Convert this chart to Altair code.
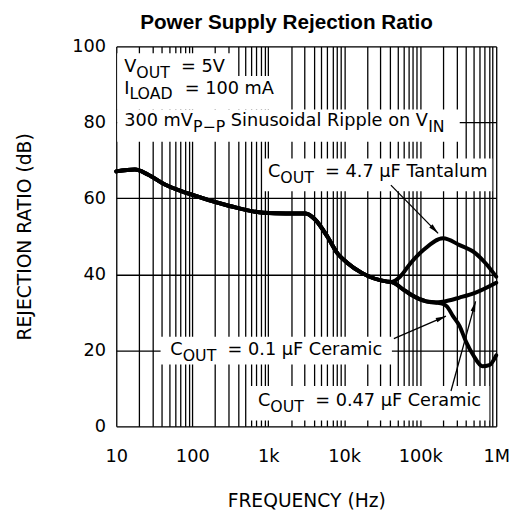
import math
import altair as alt
import pandas as pd

# ---------------- data ----------------
# common part of the three curves (frequency in Hz, rejection in dB)
common_f = [10, 17.6, 26, 43, 94, 310, 860, 1700, 3100, 4100, 6100, 8100, 11000, 17000, 37000, 42000]
common_db = [67.1, 67.6, 66.3, 63.7, 61.1, 58.0, 56.2, 56.0, 56.0, 54.5, 49.7, 45.6, 43.0, 40.4, 38.1, 38.0]

tant_f = [55000, 75000, 110000, 200000, 330000, 530000, 720000, 1000000]
tant_db = [39.5, 43.0, 46.4, 49.5, 47.7, 45.6, 43.0, 39.4]

ceramic_f = [60000, 75000, 120000, 160000]
ceramic_db = [36.0, 34.7, 32.9, 32.6]

c047_f = [200000, 330000, 535000, 1000000]
c047_db = [32.8, 33.9, 35.2, 37.8]

c01_f = [200000, 224000, 270000, 330000, 400000, 500000, 660000, 810000, 1000000]
c01_db = [32.2, 31.6, 29.0, 26.4, 22.3, 18.7, 15.8, 16.1, 18.7]

series_names = ["4.7 µF Tantalum", "0.1 µF Ceramic", "0.47 µF Ceramic"]

decade_vals = [10, 100, 1000, 10000, 100000, 1000000]
decade_labels = ["10", "100", "1k", "10k", "100k", "1M"]
minor_mult = [2, 3, 4, 5, 6, 7, 8, 9]
y_ticks = [0, 20, 40, 60, 80, 100]

# annotation texts: (text, font size, subscript drop in px)
label_ids = ["vout", "iload", "ripple", "tant", "c01", "c047"]
label_anchor_f = [12.7, 12.7, 12.7, 989, 51.5, 733]
label_anchor_db = [93.3, 87.6, 79.0, 65.5, 18.65, 5.4]
label_parts = [
    [("V", 18, 0), ("OUT", 16, 6), ("  =  5V", 18, 0)],
    [("I", 18, 0), ("LOAD", 16, 6), ("  =  100 mA", 18, 0)],
    [("300 mV", 18, 0), ("P−P", 16, 6), (" Sinusoidal Ripple on V", 18, 0), ("IN", 16, 6)],
    [("C", 18, 0), ("OUT", 16, 6), ("  =  4.7 µF Tantalum", 18, 0)],
    [("C", 18, 0), ("OUT", 16, 6), ("  =  0.1 µF Ceramic", 18, 0)],
    [("C", 18, 0), ("OUT", 16, 6), ("  =  0.47 µF Ceramic", 18, 0)],
]

# white boxes behind the annotations (frequency span, dB span)
box_f1 = [10.3, 10.3, 10.3, 877, 38.3, 561]
box_f2 = [347, 1250, 331000, 887000, 42400, 811000]
box_db1 = [92.2, 83.4, 74.9, 61.9, 16.3, 1.55]
box_db2 = [98.2, 92.2, 83.4, 70.5, 23.6, 10.6]

# arrows (start -> tip), in data units
arrow_f1 = [41100, 45000, 254000]
arrow_db1 = [63.5, 23.1, 9.3]
arrow_f2 = [172000, 218000, 535000]
arrow_db2 = [50.8, 29.0, 32.9]

# ---------------- layout helpers ----------------
W, H = 386, 386
F_MIN, F_MAX = 10, 1_000_000
PX_DEC = W / math.log10(F_MAX / F_MIN)
PX_DB = H / 100.0


def f2px(f):
    return (math.log10(f) - math.log10(F_MIN)) * PX_DEC


def db2px(v):
    return H - v * PX_DB


def px2f(x):
    return 10 ** (math.log10(F_MIN) + x / PX_DEC)


def px2db(y):
    return (H - y) / PX_DB


CW = {' ': .318, '=': .838, '.': .318, '−': .838, '-': .361, 'µ': .636,
      'A': .684, 'B': .686, 'C': .698, 'D': .770, 'E': .632, 'F': .575, 'I': .295,
      'L': .557, 'N': .748, 'O': .787, 'P': .603, 'R': .695, 'S': .635, 'T': .611,
      'U': .732, 'V': .684, 'a': .613, 'c': .550, 'd': .635, 'e': .615, 'i': .278,
      'l': .278, 'm': .974, 'n': .634, 'o': .612, 'p': .635, 'r': .411, 's': .521,
      't': .392, 'u': .634}


def tw(s, size):
    return sum(CW.get(c, .636) for c in s) * size


# ---------------- tables ----------------
curve_rows = []
for name in series_names:
    fs = list(common_f) + (tant_f if name.startswith("4.7") else ceramic_f)
    ds = list(common_db) + (tant_db if name.startswith("4.7") else ceramic_db)
    if name.startswith("0.1"):
        fs, ds = fs + c01_f, ds + c01_db
    elif name.startswith("0.47"):
        fs, ds = fs + c047_f, ds + c047_db
    for i, (f, d) in enumerate(zip(fs, ds)):
        curve_rows.append({"series": name, "f": f, "db": d, "i": i})
curves = pd.DataFrame(curve_rows)

text_rows = []
for lid, f0, d0, parts in zip(label_ids, label_anchor_f, label_anchor_db, label_parts):
    x = f2px(f0)
    y = db2px(d0)
    for txt, size, drop in parts:
        stripped = txt.lstrip(" ")
        lead = txt[: len(txt) - len(stripped)]
        x += tw(lead, size)
        text_rows.append({"id": lid, "f": px2f(x), "db": px2db(y + drop),
                          "text": stripped, "size": size})
        x += tw(stripped, size)
texts = pd.DataFrame(text_rows)

boxes = pd.DataFrame({"f1": box_f1, "f2": box_f2, "db1": box_db1, "db2": box_db2})

angles = []
for fa, da, fb, dbb in zip(arrow_f1, arrow_db1, arrow_f2, arrow_db2):
    dx = f2px(fb) - f2px(fa)
    dy = db2px(dbb) - db2px(da)
    angles.append(math.degrees(math.atan2(dx, -dy)) % 360)
arrows = pd.DataFrame({"f1": arrow_f1, "db1": arrow_db1, "f2": arrow_f2, "db2": arrow_db2, "angle": angles})

grid_vals = sorted(set(decade_vals + [m * d for d in decade_vals[:-1] for m in minor_mult]))
label_expr = " : ".join(
    f"datum.value == {v} ? '{l}'" for v, l in zip(decade_vals, decade_labels)
) + " : ''"

FONT = "DejaVu Sans"

x_scale = alt.Scale(type="log", domain=[F_MIN, F_MAX], nice=False)
y_scale = alt.Scale(domain=[0, 100], nice=False, zero=True)

x_axis = alt.Axis(
    values=grid_vals, labelExpr=label_expr, labelOverlap=False, labelFlush=False,
    grid=True, gridColor="black", gridWidth=1.3, gridOpacity=1,
    ticks=False, tickSize=0, domain=False,
    labelFont=FONT, labelFontSize=18, labelColor="black", labelPadding=22,
    title="FREQUENCY (Hz)", titleFont=FONT, titleFontSize=19, titleFontWeight="normal",
    titleColor="black", titleY=75, titleBaseline="middle",
)
y_axis = alt.Axis(
    values=y_ticks, grid=True, gridColor="black", gridWidth=1.3, gridOpacity=1,
    ticks=False, tickSize=0, domain=False,
    labelFont=FONT, labelFontSize=18, labelColor="black", labelPadding=11,
    title="REJECTION RATIO (dB)", titleFont=FONT, titleFontSize=19, titleFontWeight="normal",
    titleColor="black", titleX=-93, titleY=H / 2, titleAngle=270, titleAlign="center",
    titleBaseline="middle",
)


def X(field):
    return alt.X(field, type="quantitative", scale=x_scale, axis=x_axis)


def Y(field):
    return alt.Y(field, type="quantitative", scale=y_scale, axis=y_axis)


box_layer = alt.Chart(boxes).mark_rect(fill="white", stroke=None).encode(
    x=X("f1"), x2="f2", y=Y("db1"), y2="db2"
)

line_layer = alt.Chart(curves).mark_line(
    color="black", strokeWidth=4, interpolate="monotone", strokeCap="round", strokeJoin="round"
).encode(
    x=X("f"), y=Y("db"), detail="series:N", order="i:Q"
)

arrow_layer = alt.Chart(arrows).mark_rule(color="black", strokeWidth=1.3).encode(
    x=X("f1"), x2="f2", y=Y("db1"), y2="db2"
)

head_layer = alt.Chart(arrows).mark_point(
    shape="M0,0L-0.45,2L0.45,2Z", filled=True, fill="black", stroke=None, size=110, opacity=1
).encode(
    x=X("f2"), y=Y("db2"), angle=alt.Angle("angle:Q", scale=None)
)

text_layer = alt.Chart(texts).mark_text(
    font=FONT, align="left", baseline="alphabetic", color="black"
).encode(
    x=X("f"), y=Y("db"), text="text:N", size=alt.Size("size:Q", scale=None)
)

chart = alt.layer(box_layer, line_layer, arrow_layer, head_layer, text_layer).properties(
    width=W, height=H,
    title=alt.TitleParams(
        "Power Supply Rejection Ratio", font="Liberation Sans", fontSize=21, fontWeight="bold",
        color="black", anchor="middle", dx=-20, dy=15, offset=3, frame="group", baseline="alphabetic",
    ),
    autosize=alt.AutoSizeParams(type="none"),
    padding={"left": 110, "top": 35, "right": 14, "bottom": 82},
).configure_view(stroke="black", strokeWidth=2).configure(background="white")

chart.save("out.html", embed_options={"renderer": "svg", "actions": False})
